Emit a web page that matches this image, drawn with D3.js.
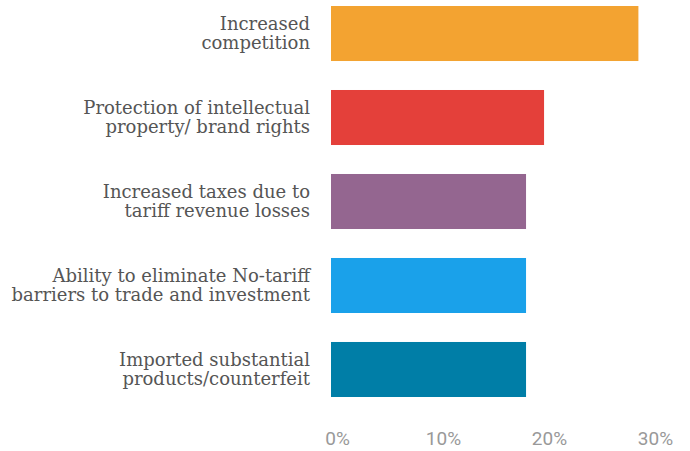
<!DOCTYPE html>
<html>
<head>
<meta charset="utf-8">
<script src="https://cdn.jsdelivr.net/npm/d3@7"></script>
<style>
  html, body { margin: 0; padding: 0; background: #fff; }
  svg { display: block; }
</style>
</head>
<body>
<svg id="chart" width="690" height="451"></svg>
<script>
// Share of respondents citing each concern (%)
const categories = [
  ["Increased", "competition"],
  ["Protection of intellectual", "property/ brand rights"],
  ["Increased taxes due to", "tariff revenue losses"],
  ["Ability to eliminate No-tariff", "barriers to trade and investment"],
  ["Imported substantial", "products/counterfeit"]
];
const values = [29, 20.1, 18.4, 18.4, 18.4];
const colors = ["#F3A331", "#E4403A", "#946690", "#1AA1EA", "#007EA7"];
const tickValues = [0, 10, 20, 30];
const tickLabels = ["0%", "10%", "20%", "30%"];

const svg = d3.select("#chart");

const x = d3.scaleLinear().domain([0, 30]).range([331, 649]);
const y = d3.scaleBand()
  .domain(d3.range(categories.length))
  .range([6, 397])
  .paddingInner(0.345)
  .paddingOuter(0);

// Bars
svg.append("g")
  .selectAll("rect")
  .data(values)
  .join("rect")
  .attr("x", x(0))
  .attr("y", (d, i) => y(i))
  .attr("width", d => x(d) - x(0))
  .attr("height", y.bandwidth())
  .attr("fill", (d, i) => colors[i]);

// Category labels, two lines each, right-aligned beside the bars
const lineH = 19;
const labels = svg.append("g")
  .attr("font-family", "'DejaVu Serif', serif")
  .attr("font-size", 18)
  .attr("fill", "#555555")
  .attr("text-anchor", "end");

categories.forEach((lines, i) => {
  const cy = y(i) + y.bandwidth() / 2;
  const t = labels.append("text")
    .attr("x", 310)
    .attr("y", cy - lineH / 2 + 6);
  lines.forEach((ln, j) => {
    t.append("tspan")
      .attr("x", 310)
      .attr("dy", j === 0 ? 0 : lineH)
      .text(ln);
  });
});

// Percentage axis along the bottom
const axis = d3.axisBottom(x)
  .tickValues(tickValues)
  .tickFormat((d, i) => tickLabels[i])
  .tickSize(0);

const ax = svg.append("g")
  .attr("transform", "translate(0,428)")
  .call(axis);
ax.select(".domain").remove();
ax.selectAll("text")
  .attr("dx", 6)
  .attr("dy", "0.71em")
  .attr("y", 3)
  .attr("font-family", "Roboto, sans-serif")
  .attr("font-weight", 400)
  .attr("font-size", 19)
  .attr("fill", "#999999");
</script>
</body>
</html>
